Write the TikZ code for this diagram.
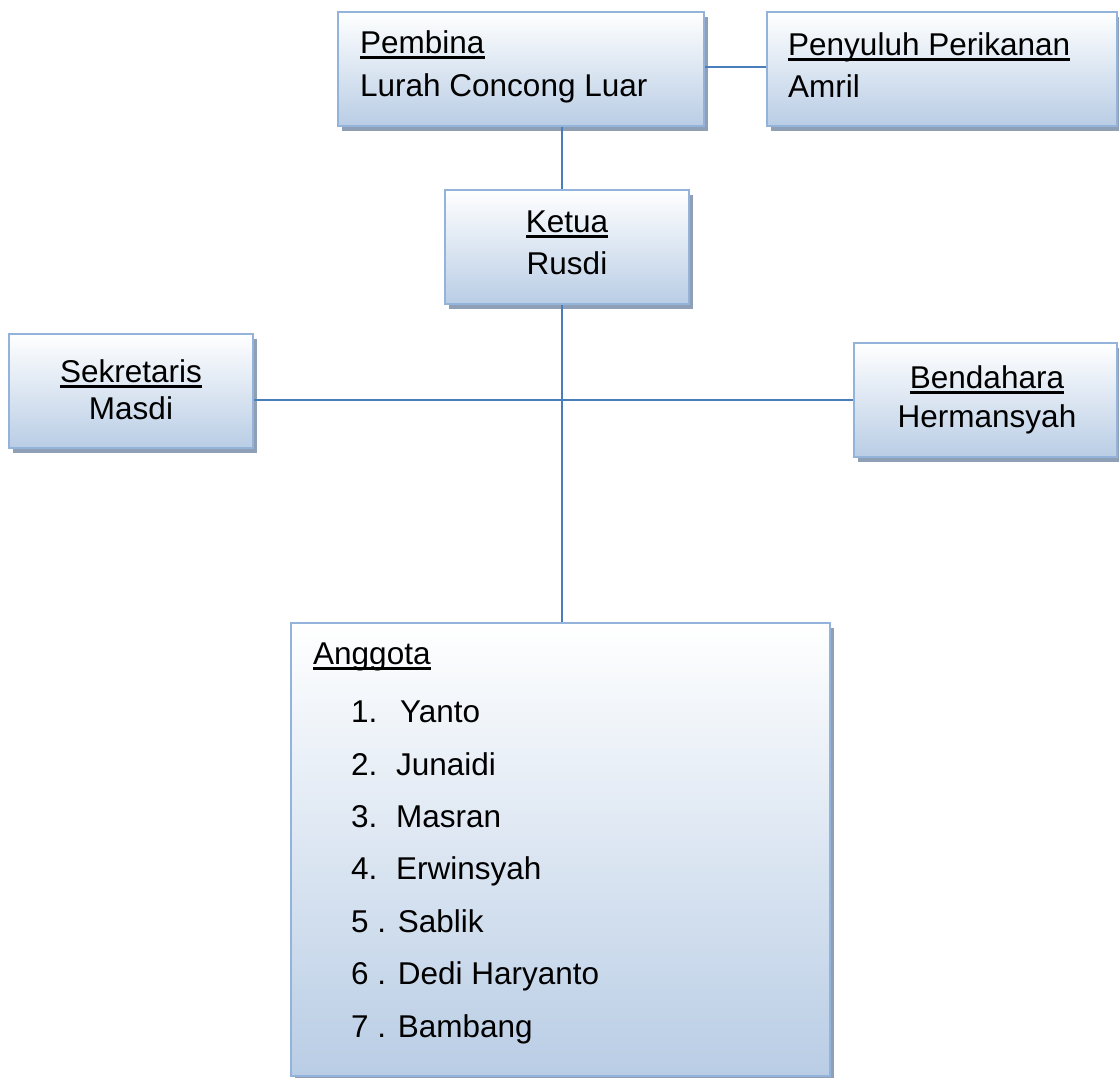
\documentclass[tikz,border=0pt]{standalone}
\usepackage{fontspec}
\setmainfont{Liberation Sans}
\usetikzlibrary{shadows}
\definecolor{boxborder}{HTML}{93B3DA}
\definecolor{boxbottom}{HTML}{B9CDE5}
\definecolor{shadowc}{HTML}{8E9FB6}
\definecolor{linec}{HTML}{4A7EBB}
\newcommand\ulx[1]{\setbox0\hbox{#1}\rlap{\rule[-5.5pt]{\wd0}{2.6pt}}\box0}
\begin{document}
\begin{tikzpicture}[x=1pt,y=-1pt,
  orgbox/.style={draw=boxborder, line width=1.3pt, rectangle, inner sep=0pt,
    top color=white, bottom color=boxbottom,
    drop shadow={shadow xshift=3.5pt, shadow yshift=-4.5pt, fill=shadowc, opacity=1}},
  lbl/.style={inner sep=0pt, font=\fontsize{31.5}{38}\selectfont},
  lblw/.style={lbl, anchor=base west},
  lblc/.style={lbl, anchor=base},
  conn/.style={draw=linec, line width=1.5pt}]
\clip (0,0) rectangle (1119,1077);
% boxes
\node[orgbox, minimum width=366pt, minimum height=114pt] (pembina) at (521,69) {};
\node[orgbox, minimum width=350pt, minimum height=114pt] (penyuluh) at (942,69) {};
\node[orgbox, minimum width=244pt, minimum height=114pt] (ketua) at (567,247) {};
\node[orgbox, minimum width=244pt, minimum height=114pt] (sekretaris) at (131,391) {};
\node[orgbox, minimum width=263pt, minimum height=114pt] (bendahara) at (985.5,400) {};
\node[orgbox, minimum width=539pt, minimum height=453pt] (anggota) at (560.5,849.5) {};
% connectors
\coordinate (spine) at (562,400);
\coordinate (toprow) at (0,67);
\draw[conn] (pembina.east |- toprow) -- (penyuluh.west |- toprow);
\draw[conn] (pembina.south -| spine) -- (ketua.north -| spine);
\draw[conn] (ketua.south -| spine) -- (anggota.north -| spine);
\draw[conn] (sekretaris.east |- spine) -- (bendahara.west |- spine);
% texts
\node[lblw] (t1) at (360,53) {\ulx{Pembina}};
\node[lblw] (t2) at (360,96) {Lurah Concong Luar};
\node[lblw] (t3) at (788,55) {\ulx{Penyuluh Perikanan}};
\node[lblw] (t4) at (788,97) {Amril};
\node[lblc] (t5) at (567,232) {\ulx{Ketua}};
\node[lblc] (t6) at (567,274) {Rusdi};
\node[lblc] (t7) at (131,382) {\ulx{Sekretaris}};
\node[lblc] (t8) at (131,419) {Masdi};
\node[lblc] (t9) at (987,388) {\ulx{Bendahara}};
\node[lblc] (t10) at (987,427) {Hermansyah};
\node[lblw] (t11) at (313,664) {\ulx{Anggota}};
\node[lblw] (m1) at (351,722) {\makebox[49pt][l]{1.}Yanto};
\node[lblw] (m2) at (351,775) {\makebox[45pt][l]{2.}Junaidi};
\node[lblw] (m3) at (351,827) {\makebox[45pt][l]{3.}Masran};
\node[lblw] (m4) at (351,879) {\makebox[45pt][l]{4.}Erwinsyah};
\node[lblw] (m5) at (351,932) {5 . Sablik};
\node[lblw] (m6) at (351,984) {6 . Dedi Haryanto};
\node[lblw] (m7) at (351,1037) {7 . Bambang};
\end{tikzpicture}
\end{document}
